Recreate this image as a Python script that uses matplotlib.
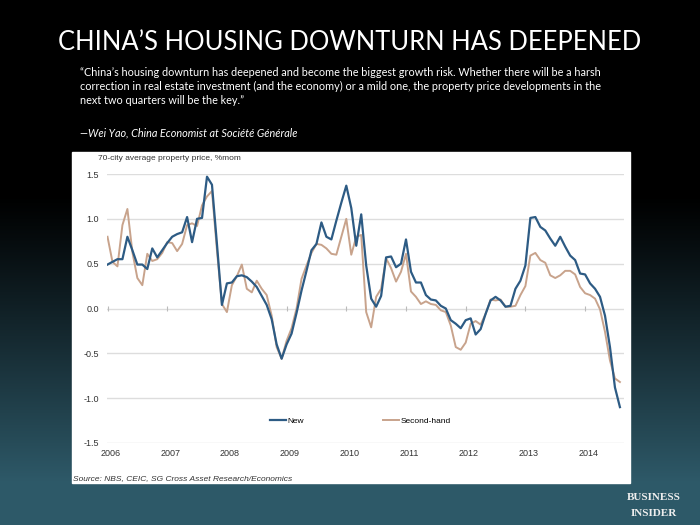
import numpy as np
import pandas as pd
import matplotlib
matplotlib.use('Agg')
import matplotlib.pyplot as plt
from matplotlib.patches import Rectangle
from matplotlib.transforms import ScaledTranslation

# 70-city average property price, % month on month (Jan 2006 - Aug 2014)
months = pd.date_range('2006-01-01', periods=104, freq='MS')
new_homes = [
    0.49, 0.52, 0.55, 0.55, 0.80, 0.65, 0.49, 0.49, 0.44, 0.67, 0.57, 0.65,
    0.73, 0.80, 0.83, 0.85, 1.02, 0.74, 1.00, 1.01, 1.47, 1.38, 0.72, 0.04,
    0.28, 0.29, 0.36, 0.37, 0.35, 0.30, 0.24, 0.14, 0.04, -0.12, -0.40, -0.56,
    -0.40, -0.28, -0.05, 0.20, 0.42, 0.65, 0.72, 0.96, 0.80, 0.77, 0.98, 1.18,
    1.37, 1.12, 0.70, 1.05, 0.48, 0.11, 0.02, 0.14, 0.57, 0.58, 0.46, 0.50,
    0.77, 0.41, 0.29, 0.29, 0.15, 0.10, 0.09, 0.03, 0.00, -0.13, -0.17, -0.22,
    -0.13, -0.11, -0.29, -0.23, -0.06, 0.09, 0.13, 0.09, 0.02, 0.03, 0.22, 0.31,
    0.48, 1.01, 1.02, 0.91, 0.87, 0.78, 0.70, 0.80, 0.69, 0.59, 0.54, 0.39,
    0.38, 0.28, 0.22, 0.13, -0.08, -0.43, -0.88, -1.10,
]
second_hand = [
    0.80, 0.52, 0.47, 0.93, 1.11, 0.63, 0.34, 0.26, 0.61, 0.53, 0.55, 0.62,
    0.74, 0.73, 0.64, 0.72, 0.93, 0.95, 0.92, 1.15, 1.25, 1.31, 0.65, 0.05,
    -0.04, 0.26, 0.36, 0.49, 0.22, 0.18, 0.31, 0.22, 0.15, -0.08, -0.43, -0.56,
    -0.36, -0.22, 0.00, 0.33, 0.48, 0.62, 0.72, 0.71, 0.67, 0.61, 0.60, 0.80,
    1.00, 0.60, 0.80, 0.82, -0.04, -0.21, 0.13, 0.22, 0.56, 0.45, 0.30, 0.41,
    0.61, 0.19, 0.13, 0.05, 0.08, 0.05, 0.04, -0.02, -0.04, -0.19, -0.43, -0.46,
    -0.38, -0.17, -0.14, -0.18, -0.06, 0.10, 0.09, 0.10, 0.02, 0.02, 0.03, 0.15,
    0.25, 0.59, 0.62, 0.54, 0.51, 0.37, 0.34, 0.37, 0.42, 0.42, 0.38, 0.24,
    0.17, 0.15, 0.11, -0.01, -0.26, -0.58, -0.78, -0.82,
]
years = list(range(2006, 2015))
y_ticks = [1.5, 1.0, 0.5, 0.0, -0.5, -1.0, -1.5]

title = 'CHINA\u2019S HOUSING DOWNTURN HAS DEEPENED'
quote_lines = [
    '\u201cChina\u2019s housing downturn has deepened and become the biggest growth risk. Whether there will be a harsh',
    'correction in real estate investment (and the economy) or a mild one, the property price developments in the',
    'next two quarters will be the key.\u201d',
]
attribution = '\u2014Wei Yao, China Economist at Soci\u00e9t\u00e9 G\u00e9n\u00e9rale'
chart_title = '70-city average property price, %mom'
source = 'Source: NBS, CEIC, SG Cross Asset Research/Economics'

x = months.year + (months.month - 1) / 12.0

W, H = 700, 525
fig = plt.figure(figsize=(7, 5.25), dpi=100)

# background: black fading to dark teal towards the bottom
bg = fig.add_axes([0, 0, 1, 1])
t = np.linspace(0, 1, 300)[:, None]
a = np.clip((t - 0.37) / 0.55, 0, 1) ** 1.1
teal = np.array([0.18, 0.35, 0.41])
grad = (a[:, :, None] * teal[None, None, :]).repeat(2, axis=1)
bg.imshow(grad, aspect='auto', extent=[0, 1, 0, 1])
bg.add_patch(Rectangle((72 / W, 1 - 483 / H), (630 - 72) / W, (483 - 152) / H,
                       transform=bg.transAxes, color='white', zorder=3))
bg.set_xlim(0, 1)
bg.set_ylim(0, 1)
bg.axis('off')

# chart
ax = fig.add_axes([107 / W, 1 - 443 / H, (624 - 107) / W, (443 - 174) / H])
ax.set_facecolor('none')
ax.set_xlim(2006 - 0.5 / 59.7, 2006 + 516.5 / 59.7)
ax.set_ylim(-1.5, 1.5)
ax.set_yticks(y_ticks)
ax.set_yticklabels(['%.1f' % v for v in y_ticks])
ax.set_xticks(years)
ax.set_xticklabels([str(y) for y in years])
ax.grid(axis='y', color='#dddddd', lw=1.0)
ax.grid(axis='x', visible=False)
for s in ax.spines.values():
    s.set_visible(False)
ax.tick_params(length=0, labelsize=6.5, labelcolor='#333333')
ax.tick_params(axis='y', pad=6)
ax.tick_params(axis='x', pad=4)
for lbl in ax.get_xticklabels():
    lbl.set_transform(lbl.get_transform() + ScaledTranslation(3 / 100, 0, fig.dpi_scale_trans))
for lbl in ax.get_xticklabels() + ax.get_yticklabels():
    lbl.set_family('Liberation Sans')
ax.vlines(years, -0.025, 0.025, color='#bbbbbb', lw=0.8)

ax.plot(x, second_hand, color='#c8a38c', lw=1.4, label='Second-hand', zorder=3)
ax.plot(x, new_homes, color='#2d5b84', lw=1.6, label='New', zorder=4)

handles, labels = ax.get_legend_handles_labels()
ax.legend(handles[::-1], labels[::-1], loc='center', bbox_to_anchor=(0.49, 0.082),
          ncol=2, frameon=False, handlelength=1.9, handletextpad=0.2,
          columnspacing=9.5, prop={'family': 'Liberation Sans', 'size': 6})

fig.text(98 / W, 1 - 158 / H, chart_title, fontsize=6, va='center',
         color='#333333', family='Liberation Sans')
fig.text(73 / W, 1 - 479 / H, source, fontsize=6, va='center', style='italic',
         color='#333333', family='Liberation Sans')

# header text
fig.text(0.5, 1 - 43 / H, title, ha='center', va='center', color='white',
         fontsize=18.4, family='Lato')
for i, line in enumerate(quote_lines):
    fig.text(80 / W, 1 - (72 + 14 * i) / H, line, va='center', color='white',
             fontsize=7.8, family='Lato')
fig.text(80 / W, 1 - 133 / H, attribution, va='center', color='white',
         fontsize=7.8, family='Lato', style='italic')

# logo
fig.text(654 / W, 1 - 497 / H, 'BUSINESS', ha='center', va='center',
         color='#eeeeee', fontsize=8, family='Liberation Serif', weight='bold')
fig.text(654 / W, 1 - 513 / H, 'INSIDER', ha='center', va='center',
         color='#eeeeee', fontsize=8, family='Liberation Serif', weight='bold')

fig.savefig('out.png', dpi=100)
